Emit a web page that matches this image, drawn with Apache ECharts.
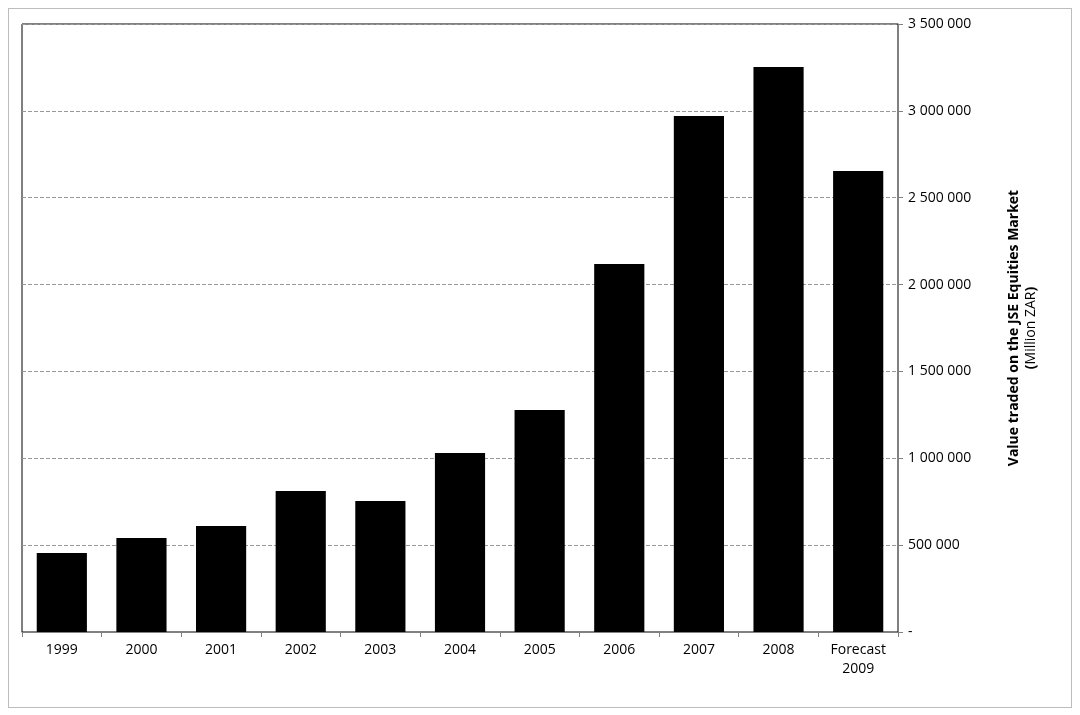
<!DOCTYPE html>
<html>
<head>
<meta charset="utf-8">
<script src="https://cdn.jsdelivr.net/npm/echarts@6/dist/echarts.min.js"></script>
<style>
html,body{margin:0;padding:0;background:#fff;}
#frame{position:absolute;left:8px;top:8px;width:1062px;height:698px;border:1px solid #bdbdbd;}
#chart1{width:1080px;height:715px;}
</style>
</head>
<body>
<div id="frame"></div>
<div id="chart1"></div>
<script>
var years = ['1999', '2000', '2001', '2002', '2003', '2004', '2005', '2006', '2007', '2008', 'Forecast\n2009'];
var valueTraded = [455000, 541000, 610000, 812000, 754000, 1030000, 1278000, 2119000, 2971000, 3253000, 2654000];

var myChart = echarts.init(document.getElementById('chart1'));
var option = {
	animation: false,
	textStyle: { fontFamily: 'Open Sans, Liberation Sans, sans-serif' },
	grid: { left: 22, right: 182, top: 24, bottom: 83, show: true, borderColor: '#000', borderWidth: 1 },
	xAxis: {
		type: 'category',
		data: years,
		axisLine: { lineStyle: { color: '#808080' } },
		axisTick: { show: true, length: 5, lineStyle: { color: '#808080' } },
		axisLabel: { color: '#000', fontSize: 14, margin: 9, lineHeight: 19 }
	},
	yAxis: {
		type: 'value',
		position: 'right',
		min: 0,
		max: 3500000,
		interval: 500000,
		name: '{b|Value traded on the JSE Equities Market}\n{b|(}Million ZAR{b|)}',
		nameLocation: 'middle',
		nameRotate: 90,
		nameGap: 108,
		nameTextStyle: { color: '#000', fontSize: 14, lineHeight: 17, rich: { b: { fontWeight: 'bold', fontSize: 14 } } },
		axisLine: { show: true, lineStyle: { color: '#808080' } },
		axisTick: { show: true, length: 5, lineStyle: { color: '#808080' } },
		splitLine: { lineStyle: { color: '#999', type: 'dashed' } },
		axisLabel: {
			color: '#000', fontSize: 14, margin: 10,
			formatter: function (v) {
				if (v === 0) return '-';
				return String(v).replace(/\B(?=(\d{3})+(?!\d))/g, ' ');
			}
		}
	},
	series: [{
		type: 'bar',
		data: valueTraded,
		barCategoryGap: '37%',
		itemStyle: { color: '#000' }
	}]
};
myChart.setOption(option);
</script>
</body>
</html>
